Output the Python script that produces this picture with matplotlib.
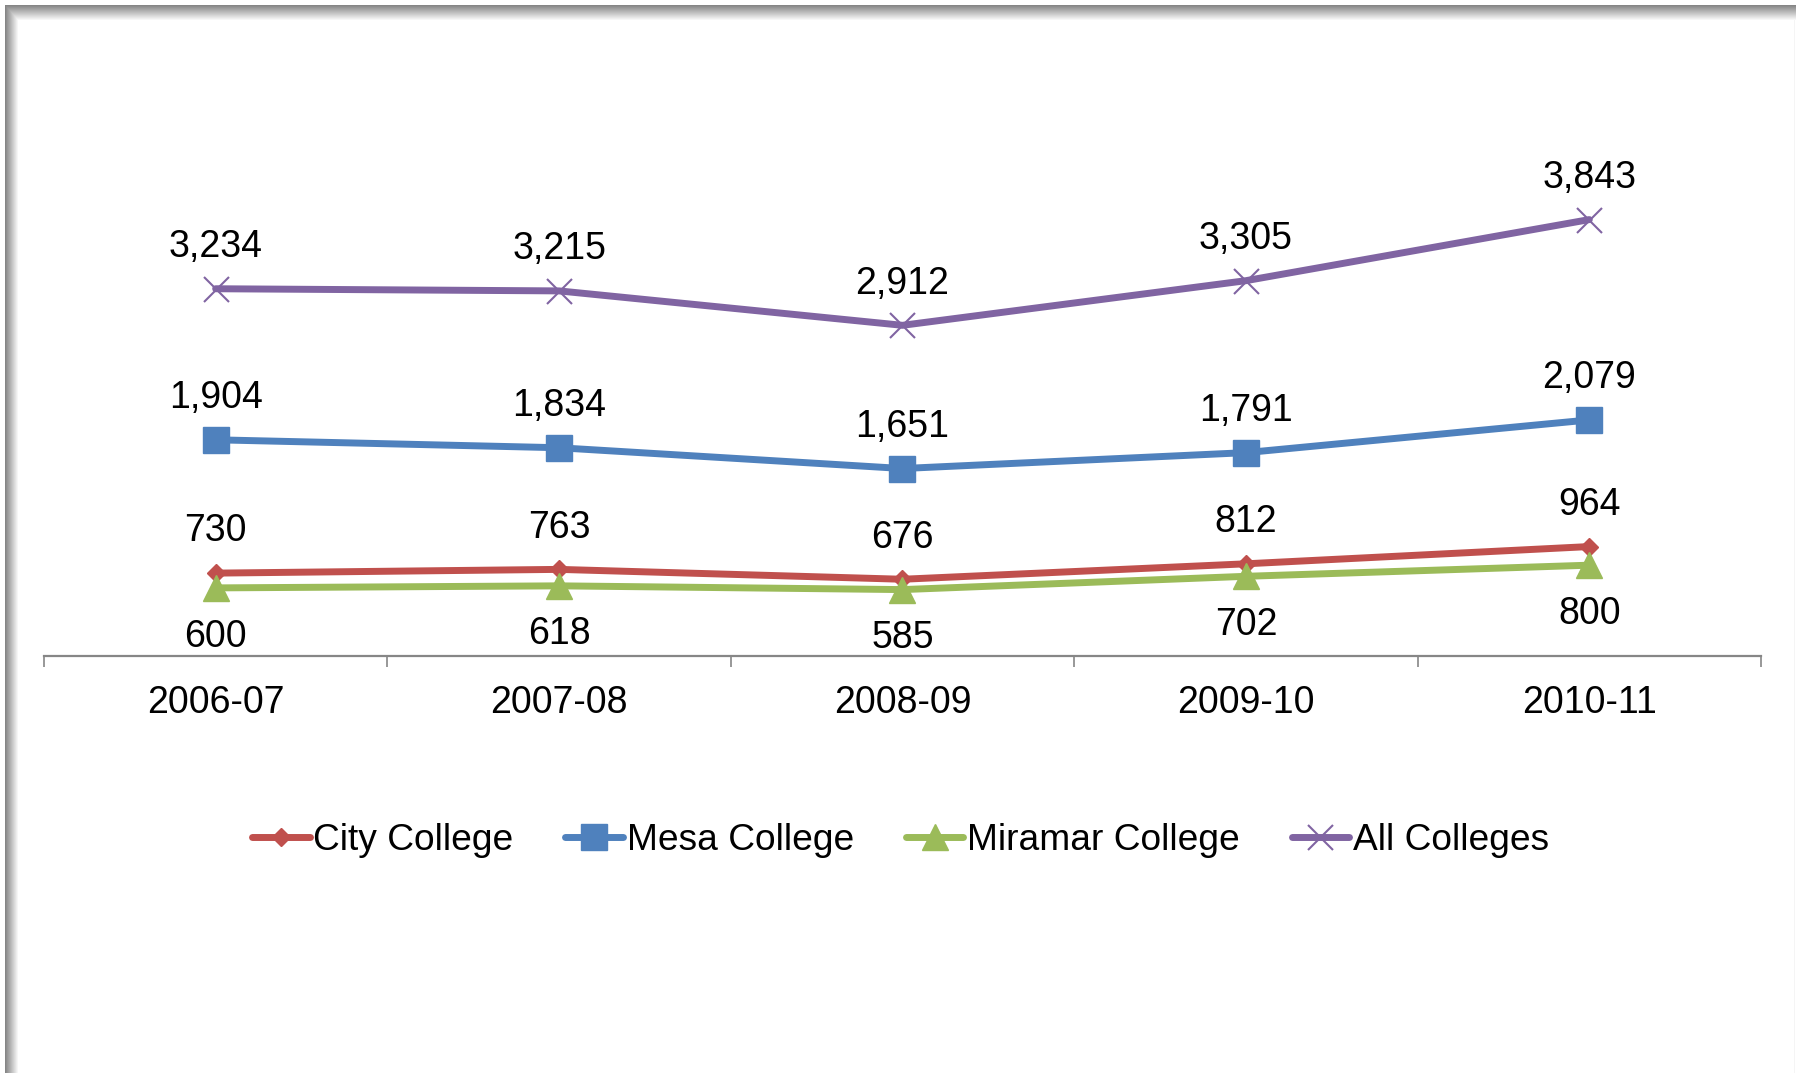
import matplotlib
matplotlib.use("Agg")
import matplotlib.pyplot as plt
import numpy as np

plt.rcParams['font.family'] = ['Liberation Sans', 'DejaVu Sans']

# data
years = ["2006-07", "2007-08", "2008-09", "2009-10", "2010-11"]
city = [730, 763, 676, 812, 964]
mesa = [1904, 1834, 1651, 1791, 2079]
miramar = [600, 618, 585, 702, 800]
alle = [3234, 3215, 2912, 3305, 3843]

W, H = 1801, 1073
fig = plt.figure(figsize=(W / 100, H / 100), dpi=100)

# Rahmen mit Schatten (oben und links)
bg = np.ones((H, W))
top = np.linspace(0.52, 1.0, 16)
for i, v in enumerate(top):
    bg[5 + i, 5:1795] = np.minimum(bg[5 + i, 5:1795], v)
left = np.linspace(0.52, 1.0, 14)
for i, v in enumerate(left):
    bg[5:, 5 + i] = np.minimum(bg[5:, 5 + i], v)
bg[20:, 1793] = np.minimum(bg[20:, 1793], 0.96)
bgax = fig.add_axes([0, 0, 1, 1], zorder=-1)
bgax.imshow(bg, cmap="gray", vmin=0, vmax=1, aspect="auto", interpolation="nearest")
bgax.axis("off")

ax = fig.add_axes([0.0244, 0.3886, 0.9534, 0.4763])
ax.patch.set_alpha(0)

x = np.arange(len(years))
serien = [
    ("City College", city, "#C0504D", "D", 9.5, 1, 30),
    ("Mesa College", mesa, "#4F81BD", "s", 18.5, 1, 30),
    ("Miramar College", miramar, "#9BBB59", "^", 19, 1, -35),
    ("All Colleges", alle, "#8064A2", "x", 18, 1.5, 30),
]
for name, werte, farbe, m, ms, mew, off in serien:
    ax.plot(x, werte, color=farbe, lw=5, marker=m, markersize=ms,
            markeredgewidth=mew, markeredgecolor=farbe, label=name,
            solid_capstyle="round")
    for xi, w in zip(x, werte):
        ax.annotate("{:,}".format(w), (xi, w), xytext=(0, off),
                    textcoords="offset points", ha="center", va="center",
                    fontsize=27)

ax.set_xlim(-0.5, len(years) - 0.5)
ax.set_ylim(0, 4500)
ax.set_xticks(np.arange(-0.5, len(years), 1.0))
ax.set_xticklabels([])
ax.set_xticks(x, minor=True)
ax.set_xticklabels(years, minor=True, fontsize=27)
ax.tick_params(axis="x", which="major", length=8, width=1.2, color="#868686")
ax.tick_params(axis="x", which="minor", length=0, pad=21)
ax.set_yticks([])
for s in ["top", "right", "left"]:
    ax.spines[s].set_visible(False)
ax.spines["bottom"].set_color("#868686")
ax.spines["bottom"].set_linewidth(1.6)

fig.legend(loc="center", bbox_to_anchor=(0.5, 1 - 840 / H), ncol=4,
           frameon=False, fontsize=26.7, handlelength=1.55, handletextpad=0.1,
           columnspacing=1.4)

fig.savefig("out.png", dpi=100)
